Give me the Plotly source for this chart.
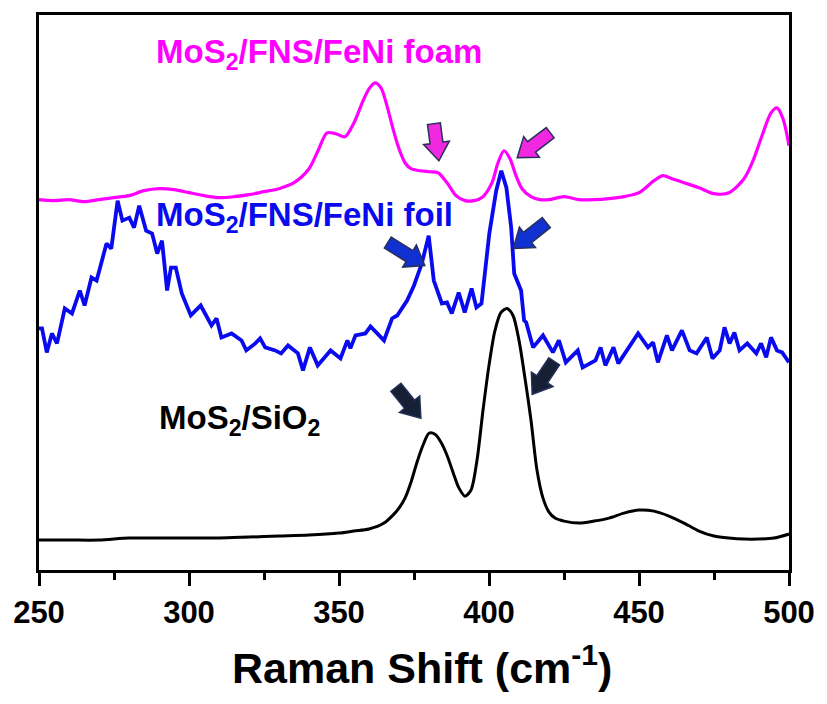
import math
import plotly.graph_objects as go

# ---------------- data (Raman shift in cm^-1, intensity in a.u., offset-stacked) ----------------
sio2_x = [250, 260, 270, 280, 290, 300, 310, 320, 330, 340, 350, 355, 360, 365, 368, 370, 372, 374,
          376, 378, 380, 382, 384, 386, 388, 390, 392, 394, 396, 398, 400, 402, 404, 406, 408, 410,
          412, 414, 416, 418, 420, 422, 425, 430, 435, 440, 445, 450, 455, 460, 465, 470, 475, 480,
          485, 490, 495, 500]
sio2_y = [30, 30, 30, 32, 32, 32, 32, 33, 34, 35, 37, 39, 41, 47, 55, 62, 72, 88,
          108, 125, 137, 136, 128, 115, 98, 82, 74, 80, 110, 160, 205, 240, 258, 262, 255, 230,
          192, 150, 100, 72, 58, 52, 49, 47, 49, 52, 57, 60, 59, 54, 47, 39, 34, 32,
          31, 31, 32, 36]

foam_x = [250, 255, 260, 265, 270, 275, 280, 285, 290, 295, 300, 305, 310, 315, 320, 325, 330, 335,
          340, 343, 346, 349, 352, 355, 358, 360, 362, 364, 366, 368, 370, 372, 374, 377, 380, 383,
          386, 389, 392, 395, 398, 401, 403, 405, 407, 409, 411, 414, 417, 420, 425, 430, 435, 440,
          445, 450, 455, 458, 461, 465, 470, 475, 480, 485, 488, 491, 494, 496, 498, 500]
foam_y = [371, 370, 371, 369, 371, 373, 375, 380, 382, 381, 378, 375, 373, 374, 376, 379, 382, 388,
          402, 420, 438, 437, 434, 448, 470, 482, 488, 483, 465, 442, 422, 408, 402, 400, 399, 398,
          388, 375, 370, 370, 374, 388, 408, 420, 412, 395, 382, 374, 371, 371, 374, 371, 371, 372,
          374, 378, 390, 395, 392, 388, 383, 377, 378, 392, 410, 435, 458, 463, 452, 425]

foil_x = [250.0, 251.0, 252.6, 254.3, 256.0, 258.6, 261.0, 263.6, 265.2, 267.5, 269.2, 272.5, 274.1,
          276.2, 277.8, 280.1, 281.7, 283.4, 285.7, 287.7, 289.4, 291.0, 292.7, 294.0, 295.6, 297.6,
          300.6, 303.9, 307.5, 309.2, 310.8, 314.2, 317.5, 319.1, 322.1, 323.7, 325.4, 328.7, 330.7,
          333.0, 336.3, 338.0, 340.3, 342.9, 347.2, 350.5, 352.8, 353.8, 355.5, 358.8, 360.5, 365.0,
          367.7, 369.4, 372.7, 375.0, 377.6, 379.9, 381.6, 384.3, 386.0, 387.6, 389.9, 391.9, 394.2,
          395.8, 397.5, 400.1, 402.4, 404.1, 405.8, 407.4, 408.4, 410.7, 411.7, 412.4, 414.7, 418.0,
          421.3, 423.3, 425.6, 429.6, 431.2, 435.5, 437.2, 438.8, 441.5, 443.1, 446.4, 449.7, 453.0,
          454.7, 456.3, 459.3, 461.0, 464.3, 466.9, 469.2, 472.6, 474.5, 476.9, 478.5, 480.2, 481.8,
          483.5, 486.1, 489.1, 490.7, 492.4, 494.0, 496.0, 497.7, 500.0]
foil_y = [242, 242, 218, 237, 227, 262, 257, 280, 265, 293, 290, 327, 322,
          370, 350, 353, 343, 365, 340, 337, 317, 330, 280, 303, 303, 277,
          255, 265, 245, 252, 233, 237, 230, 220, 227, 232, 223, 220, 217,
          225, 217, 200, 223, 205, 220, 212, 230, 222, 235, 237, 244, 230,
          252, 255, 270, 285, 307, 335, 290, 267, 268, 257, 278, 258, 282,
          263, 267, 337, 380, 400, 383, 343, 297, 280, 250, 248, 223, 235,
          218, 230, 208, 220, 203, 210, 223, 205, 223, 207, 222, 237, 223,
          228, 208, 235, 220, 240, 220, 217, 233, 212, 220, 243, 227, 238,
          220, 227, 217, 227, 213, 233, 220, 218, 208]

x_ticks = [250, 300, 350, 400, 450, 500]

# label text, colour, anchor (left x in cm^-1, y centre in a.u.)
labels = [
    ("MoS<sub>2</sub>/FNS/FeNi foam", "#ff00ff", 288.4, 517),
    ("MoS<sub>2</sub>/FNS/FeNi foil", "#0a0aee", 288.4, 354),
    ("MoS<sub>2</sub>/SiO<sub>2</sub>", "#000000", 289.4, 150),
]

# arrows: tip (cm^-1, a.u.), tail offset from tip (px, +y up), fill colour
arrows = [
    (383.3, 410, -5, 37, "#f028e0"),
    (409.4, 413, 33, 25, "#f028e0"),
    (378.6, 305, -37, 23, "#1030d0"),
    (408.1, 322, 33, 26, "#1030d0"),
    (377.3, 152, -25, 31, "#152035"),
    (414.4, 176, 22, 33, "#152035"),
]

FONT = "Liberation Sans, Arial, sans-serif"


def arrow_path(dx, dy, head=18.0, head_hw=13.0, shaft_hw=6.5):
    """Block-arrow polygon in pixels relative to the tip, tail at (dx, dy)."""
    L = math.hypot(dx, dy)
    ux, uy = -dx / L, -dy / L          # unit vector tail -> tip
    nx, ny = -uy, ux
    tx, ty = dx, dy                    # tail
    bx, by = -ux * head, -uy * head    # neck (base of head)
    pts = [
        (tx + nx * shaft_hw, ty + ny * shaft_hw),
        (bx + nx * shaft_hw, by + ny * shaft_hw),
        (bx + nx * head_hw, by + ny * head_hw),
        (0.0, 0.0),
        (bx - nx * head_hw, by - ny * head_hw),
        (bx - nx * shaft_hw, by - ny * shaft_hw),
        (tx - nx * shaft_hw, ty - ny * shaft_hw),
    ]
    return "M " + " L ".join(f"{px:.2f},{py:.2f}" for px, py in pts) + " Z"


fig = go.Figure()
fig.add_trace(go.Scatter(x=sio2_x, y=sio2_y, mode="lines",
                         line=dict(color="#000000", width=3, shape="spline", smoothing=0.8),
                         showlegend=False, hoverinfo="skip"))
fig.add_trace(go.Scatter(x=foil_x, y=foil_y, mode="lines",
                         line=dict(color="#0a0aee", width=3.8),
                         showlegend=False, hoverinfo="skip"))
fig.add_trace(go.Scatter(x=foam_x, y=foam_y, mode="lines",
                         line=dict(color="#ff00ff", width=3.2, shape="spline", smoothing=0.8),
                         showlegend=False, hoverinfo="skip"))

shapes = []
for tx, ty, dx, dy, col in arrows:
    shapes.append(dict(type="path", xref="x", yref="y", xsizemode="pixel", ysizemode="pixel",
                       xanchor=tx, yanchor=ty, path=arrow_path(dx, dy),
                       fillcolor=col, line=dict(color="#28305a", width=1.5), layer="above"))

annotations = []
for text, col, lx, ly in labels:
    annotations.append(dict(x=lx, y=ly, xref="x", yref="y", text=text, showarrow=False,
                            xanchor="left", yanchor="middle",
                            font=dict(family=FONT, size=33, color=col, weight=700)))
annotations.append(dict(x=0.51, y=-0.172, xref="paper", yref="paper",
                        text="Raman Shift (cm<sup>-1</sup>)", showarrow=False,
                        xanchor="center", yanchor="middle",
                        font=dict(family=FONT, size=43, color="#000000", weight=700)))

fig.update_layout(
    width=827, height=704,
    margin=dict(l=39, r=32, t=14, b=134),
    paper_bgcolor="white", plot_bgcolor="white",
    font=dict(family=FONT, color="#000000"),
    annotations=annotations,
    shapes=shapes,
    xaxis=dict(range=[250, 500], tickvals=x_ticks, ticktext=[str(v) for v in x_ticks],
               showline=True, linewidth=3, linecolor="#000000", mirror=True,
               ticks="outside", ticklen=13, tickwidth=3, tickcolor="#000000",
               minor=dict(dtick=25, tick0=250, ticks="outside", ticklen=7, tickwidth=3,
                          tickcolor="#000000"),
               showgrid=False, zeroline=False,
               tickfont=dict(family=FONT, size=31, color="#000000", weight=700)),
    yaxis=dict(range=[0, 556], showline=True, linewidth=3, linecolor="#000000", mirror=True,
               showticklabels=False, ticks="", showgrid=False, zeroline=False),
)

fig.write_html("out.html")
